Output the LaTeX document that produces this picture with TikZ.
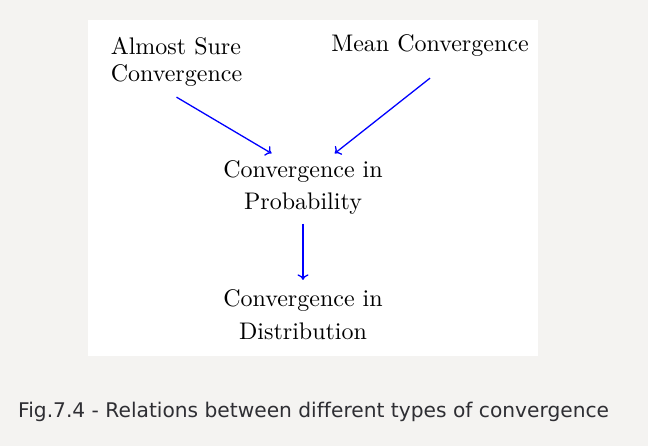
\documentclass[tikz,border=0pt]{standalone}
\usepackage{fontspec}
\newfontfamily\capfont{DejaVu Sans}[Ligatures=NoCommon]
\newfontfamily\lmten{lmroman10-regular}[Extension=.otf]
\usetikzlibrary{arrows.meta}
\definecolor{pagebg}{HTML}{F4F3F1}
\definecolor{captxt}{HTML}{2E2E33}
\tikzset{
  lbl/.style={inner sep=0pt, font=\lmten\fontsize{24bp}{32bp}\selectfont, anchor=base},
  arr/.style={draw=blue, line width=1.3bp, -{To[length=5.5bp,width=11bp]}},
}
\begin{document}
\begin{tikzpicture}[x=1bp,y=-1bp]
\fill[pagebg] (0,0) rectangle (648,446);
\useasboundingbox (0,0) rectangle (648,446);
\fill[white] (88,20) rectangle (538,356);
\node[lbl, align=left, font=\lmten\fontsize{24bp}{27bp}\selectfont] (as) at (176.5,82) {Almost Sure\\Convergence};
\node[lbl] (mean) at (430,52) {Mean Convergence};
\node[lbl, align=center] (prob) at (303,210) {Convergence in\\Probability};
\node[lbl, align=center] (dist) at (303,339) {Convergence in\\Distribution};
\draw[arr] ([yshift=-10bp]as.south) -- ([xshift=-31.5bp,yshift=7.5bp]prob.north);
\draw[arr] ([yshift=-21bp]mean.south) -- ([xshift=31.7bp,yshift=7.5bp]prob.north);
\draw[arr] ([yshift=-8.6bp]prob.south) -- ([yshift=10bp]dist.north);
\node[anchor=base west, inner sep=0pt, text=captxt, font=\capfont\fontsize{20.2bp}{24bp}\selectfont] (cap) at (18,417) {Fig.7.4 - Relations between different types of convergence};
\end{tikzpicture}
\end{document}
